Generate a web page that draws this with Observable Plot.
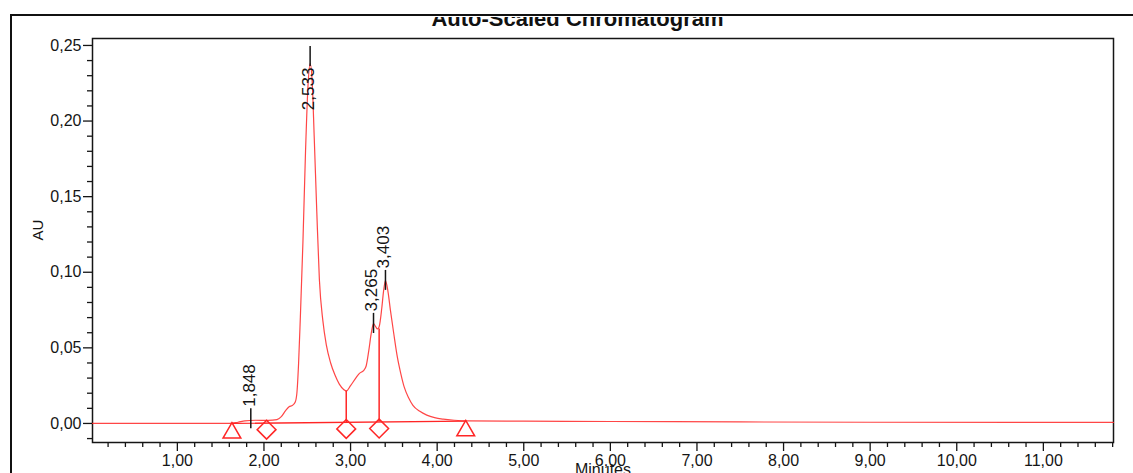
<!DOCTYPE html>
<html>
<head>
<meta charset="utf-8">
<script src="https://cdn.jsdelivr.net/npm/d3@7"></script>
<script src="https://cdn.jsdelivr.net/npm/@observablehq/plot@0.6"></script>
<style>
  body { margin: 0; background: #fff; }
  #wrap { position: relative; width: 1133px; height: 473px; overflow: hidden; background: #fff; }
  #outer { position: absolute; left: 10px; top: 14px; width: 1200px; height: 520px;
           border-top: 2.5px solid #111; border-left: 2.5px solid #111; pointer-events: none; }
  #titlebox { position: absolute; top: 16.5px; left: 327.5px; width: 500px; height: 20px; overflow: hidden; text-align: center; }
  #title { margin-top: -10.8px; font: bold 22px/26px "Liberation Sans", Arial, sans-serif; color: #111; white-space: nowrap; }
</style>
</head>
<body>
<div id="wrap">
  <div id="chart"></div>
  <div id="outer"></div>
  <div id="titlebox"><div id="title">Auto-Scaled Chromatogram</div></div>
</div>
<script>
// ---- data ----
const traceTime = [0.02, 1.60, 1.70, 1.78, 1.90, 2.05, 2.15, 2.20, 2.25, 2.29, 2.33, 2.36, 2.38, 2.40, 2.42, 2.45, 2.48, 2.51, 2.533,
  2.555, 2.58, 2.61, 2.64, 2.68, 2.72, 2.77, 2.82, 2.87, 2.92, 2.95, 3.00, 3.06, 3.10, 3.15, 3.18, 3.21, 3.24, 3.265,
  3.29, 3.31, 3.33, 3.36, 3.38, 3.403, 3.43, 3.46, 3.50, 3.54, 3.58, 3.62, 3.67, 3.72, 3.80, 3.88, 3.97, 4.07, 4.20,
  4.35, 5.00, 6.00, 7.50, 9.00, 11.81];
const traceAU = [0.0000, 0.0000, 0.0008, 0.0017, 0.0021, 0.0020, 0.0025, 0.0045, 0.0085, 0.0110, 0.0120, 0.0140, 0.0200, 0.0400,
  0.0700, 0.1200, 0.1800, 0.2250, 0.2380, 0.2280, 0.1900, 0.1400, 0.0950, 0.0680, 0.0520, 0.0400, 0.0320, 0.0260, 0.0225,
  0.0214, 0.0250, 0.0300, 0.0330, 0.0350, 0.0380, 0.0480, 0.0600, 0.0660, 0.0640, 0.0625, 0.0640, 0.0760, 0.0870, 0.0945,
  0.0880, 0.0750, 0.0590, 0.0440, 0.0330, 0.0240, 0.0170, 0.0120, 0.0080, 0.0055, 0.0038, 0.0028, 0.0021, 0.0017, 0.0015,
  0.0013, 0.0010, 0.0008, 0.0007];

const baseTime = [1.63, 4.33];          // integration baseline (triangle to triangle)
const baseAU = [0.0000, 0.0015];

const diamondTime = [2.03, 2.95, 3.33];  // peak boundaries
const diamondAU = [0.0002, 0.0007, 0.0009];
const dropTime = [2.95, 3.33];
const dropBottom = [0.0007, 0.0009];
const dropTop = [0.0214, 0.0625];

const peakTimes = [1.848, 2.533, 3.265, 3.403];
const peakLabels = ["1,848", "2,533", "3,265", "3,403"];
const peakTickLow = [-0.0035, 0.2360, 0.0595, 0.0880];
const peakTickHigh = [0.0097, 0.2493, 0.0728, 0.1012];

const yMajor = [0, 0.05, 0.10, 0.15, 0.20, 0.25];
const xMajor = [1, 2, 3, 4, 5, 6, 7, 8, 9, 10, 11];
const yMinor = d3.range(-1, 26).map(i => i / 100).filter((v, i) => (i - 1) % 5 !== 0);
const xMinor = d3.range(1, 60).map(i => i / 5).filter((v, i) => (i + 1) % 5 !== 0);

// ---- tables ----
const trace = traceTime.map((t, i) => ({t, au: traceAU[i]}));
const base = baseTime.map((t, i) => ({t, au: baseAU[i]}));
const diamonds = diamondTime.map((t, i) => ({t, au: diamondAU[i]}));
const drops = dropTime.map((t, i) => ({t, lo: dropBottom[i], hi: dropTop[i]}));
const peaks = peakTimes.map((t, i) => ({t, label: peakLabels[i], lo: peakTickLow[i], hi: peakTickHigh[i]}));
const peaksUp = peaks.filter(d => d.hi < 0.2);
const peaksDown = peaks.filter(d => d.hi >= 0.2);

const fmt = d => d.toFixed(2).replace(".", ",");
const red = "#ff2626";
const ink = "#151515";
const FONT = "'Liberation Sans', Arial, sans-serif";

const chart = Plot.plot({
  width: 1133,
  height: 473,
  marginLeft: 92,
  marginRight: 20,
  marginTop: 38,
  marginBottom: 31,
  style: {fontFamily: FONT, fontSize: "16px", color: ink, background: "white", overflow: "hidden"},
  x: {domain: [0.02, 11.81]},
  y: {domain: [-0.0126, 0.2546]},
  marks: [
    Plot.frame({stroke: ink, strokeWidth: 1.5}),
    Plot.axisY({ticks: yMajor, tickSize: 9, tickPadding: 2, tickFormat: fmt, label: null, strokeWidth: 1.3}),
    Plot.axisY({ticks: yMinor, tickSize: 5, tickFormat: () => "", label: null, strokeWidth: 1.3}),
    Plot.axisX({ticks: xMajor, tickSize: 9, tickPadding: 3, tickFormat: fmt, label: null, strokeWidth: 1.3}),
    Plot.axisX({ticks: xMinor, tickSize: 5, tickFormat: () => "", label: null, strokeWidth: 1.3}),
    Plot.text(["AU"], {frameAnchor: "left", dx: -54, rotate: -90, fontSize: 15, fill: ink}),
    Plot.text(["Minutes"], {frameAnchor: "bottom", dy: 21.5, lineAnchor: "top", fontSize: 16, fill: ink}),
    Plot.line(base, {x: "t", y: "au", stroke: red, strokeWidth: 1.3}),
    Plot.line(trace, {x: "t", y: "au", stroke: red, strokeWidth: 1.2, strokeOpacity: 0.85, curve: "monotone-x"}),
    Plot.ruleX(drops, {x: "t", y1: "lo", y2: "hi", stroke: red, strokeWidth: 1.5}),
    Plot.dot(base, {x: "t", y: "au", symbol: "triangle", r: 6.6, stroke: red, strokeWidth: 1.5, fill: "none", dy: 9.5}),
    Plot.dot(diamonds, {x: "t", y: "au", symbol: "diamond2", r: 8.5, stroke: red, strokeWidth: 1.5, fill: "none", dy: 6.5}),
    Plot.ruleX(peaks, {x: "t", y1: "lo", y2: "hi", stroke: ink, strokeWidth: 1.5}),
    Plot.text(peaksUp, {x: "t", y: "hi", text: "label", rotate: -90, textAnchor: "start", dx: -1.5, dy: -2, fontSize: 17, fill: ink}),
    Plot.text(peaksDown, {x: "t", y: "lo", text: "label", rotate: -90, textAnchor: "end", dx: -1.5, dy: 1, fontSize: 17, fill: ink})
  ]
});
document.getElementById("chart").append(chart);
</script>
</body>
</html>
